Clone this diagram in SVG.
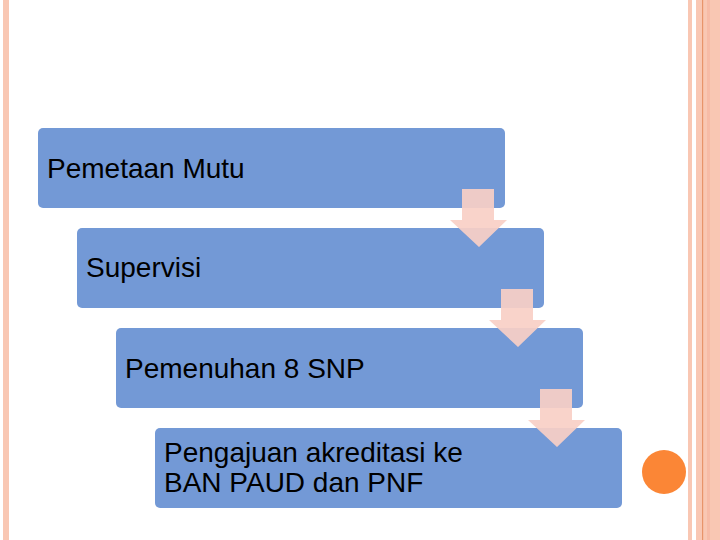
<svg xmlns="http://www.w3.org/2000/svg" width="720" height="540" viewBox="0 0 720 540">
<style>
.box{fill:#7399d6;}
.lbl{font-family:"Liberation Sans",Arial,sans-serif;font-size:28px;fill:#000;}
.arr{fill:#f9cfc5;fill-opacity:0.92;}
.stripe{fill:#f9c7b3;}
</style>
<rect width="720" height="540" fill="#ffffff"/>
<rect class="stripe" x="3" y="0" width="6" height="540"/>
<rect class="stripe" x="688" y="0" width="4" height="540"/>
<rect class="stripe" x="696" y="0" width="24" height="540"/>
<rect x="702" y="0" width="1.2" height="540" fill="#e8946a"/>
<rect x="707" y="0" width="3" height="540" fill="#f7bba6"/>
<circle cx="664" cy="472" r="22" fill="#fb8636"/>
<g id="node1"><rect class="box" x="38" y="128" width="467" height="80" rx="5"/><text class="lbl" x="47" y="178">Pemetaan Mutu</text></g>
<g id="node2"><rect class="box" x="77" y="228" width="467" height="80" rx="5"/><text class="lbl" x="86" y="277">Supervisi</text></g>
<g id="node3"><rect class="box" x="116" y="328" width="467" height="80" rx="5"/><text class="lbl" x="125" y="378">Pemenuhan 8 SNP</text></g>
<g id="node4"><rect class="box" x="155" y="428" width="467" height="80" rx="5"/><text class="lbl" x="164" y="462">Pengajuan akreditasi ke</text><text class="lbl" x="164" y="492">BAN PAUD dan PNF</text></g>
<g id="connectors">
<path class="arr" d="M462 189 H494 V220 H507 L479 247 L450 220 H462 Z"/>
<path class="arr" d="M501 289 H533 V320 H546 L518 347 L489 320 H501 Z"/>
<path class="arr" d="M540 389 H572 V420 H585 L557 447 L528 420 H540 Z"/>
</g>
</svg>
